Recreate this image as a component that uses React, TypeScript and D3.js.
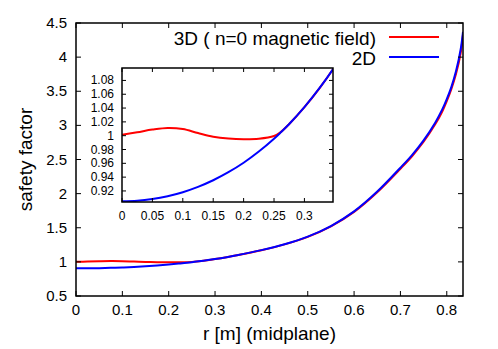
import React from 'react';
import * as d3 from 'd3';

// minor radius along the midplane [m]
const radius = [0, 0.025, 0.05, 0.075, 0.1, 0.125, 0.15, 0.175, 0.2, 0.225, 0.25, 0.26, 0.275, 0.3, 0.325, 0.35, 0.4, 0.45, 0.5, 0.55, 0.6, 0.65, 0.7, 0.725, 0.75, 0.775, 0.79, 0.8, 0.81, 0.82, 0.83, 0.835];

// safety factor, axisymmetric equilibrium
const q2D = [0.905, 0.9058, 0.9083, 0.9124, 0.9182, 0.9259, 0.9355, 0.9471, 0.9608, 0.977, 0.9956, 1.0039, 1.017, 1.0414, 1.0691, 1.1003, 1.172, 1.258, 1.37, 1.525, 1.74, 2.03, 2.38, 2.565, 2.78, 3.04, 3.23, 3.385, 3.565, 3.795, 4.115, 4.37];

// safety factor with the n=0 magnetic field
const q3D = [1.0015, 1.005, 1.0088, 1.0112, 1.0097, 1.0038, 0.9985, 0.9958, 0.9948, 0.9955, 0.9995, 1.0045, 1.017, 1.0414, 1.069, 1.1, 1.171, 1.256, 1.366, 1.52, 1.732, 2.02, 2.365, 2.548, 2.76, 3.015, 3.2, 3.355, 3.535, 3.755, 4.06, 4.33];

const mainXTicks = [0, 0.1, 0.2, 0.3, 0.4, 0.5, 0.6, 0.7, 0.8];
const mainYTicks = [0.5, 1, 1.5, 2, 2.5, 3, 3.5, 4, 4.5];
const insetXTicks = [0, 0.05, 0.1, 0.15, 0.2, 0.25, 0.3];
const insetYTicks = [0.92, 0.94, 0.96, 0.98, 1, 1.02, 1.04, 1.06, 1.08];

const legend = ['3D ( n=0 magnetic field)', '2D'];
const colors = ['#ff0000', '#0000ff'];

const font = '"Liberation Sans", Arial, sans-serif';

const App = () => {
  const width = 498;
  const height = 349;

  // main frame
  const m = { left: 76, top: 23, right: 463, bottom: 296 };
  const x = d3.scaleLinear().domain([0, 0.835]).range([m.left, m.right]);
  const y = d3.scaleLinear().domain([0.5, 4.5]).range([m.bottom, m.top]);

  // inset frame
  const s = { left: 122, top: 68, right: 333, bottom: 202 };
  const xi = d3.scaleLinear().domain([0, 0.347]).range([s.left, s.right]);
  const yi = d3.scaleLinear().domain([0.904, 1.098]).range([s.bottom, s.top]);

  const pts = (q: number[]) => radius.map((r, i) => [r, q[i]] as [number, number]);

  const mainLine = d3.line<[number, number]>()
    .x(d => x(d[0]))
    .y(d => y(d[1]))
    .curve(d3.curveCatmullRom.alpha(0.5));

  const insetLine = d3.line<[number, number]>()
    .x(d => xi(d[0]))
    .y(d => yi(d[1]))
    .curve(d3.curveCatmullRom.alpha(0.5));

  const series = [q3D, q2D];
  const tick = 5;
  const tickI = 4;

  return (
    <svg width={width} height={height} style={{ position: 'absolute', left: 0, top: 0, background: '#fff' }} fontFamily={font}>
      <defs>
        <clipPath id="mainClip">
          <rect x={m.left} y={m.top} width={m.right - m.left} height={m.bottom - m.top} />
        </clipPath>
        <clipPath id="insetClip">
          <rect x={s.left} y={s.top} width={s.right - s.left} height={s.bottom - s.top} />
        </clipPath>
      </defs>

      {/* main curves */}
      <g clipPath="url(#mainClip)">
        {series.map((q, i) => (
          <path key={i} d={mainLine(pts(q)) || ''} fill="none" stroke={colors[i]} strokeWidth={2} />
        ))}
      </g>

      {/* main ticks, mirrored on all sides */}
      <g stroke="#000" strokeWidth={1}>
        {mainXTicks.map(t => (
          <g key={'x' + t}>
            <line x1={x(t)} x2={x(t)} y1={m.bottom} y2={m.bottom - tick} />
            <line x1={x(t)} x2={x(t)} y1={m.top} y2={m.top + tick} />
          </g>
        ))}
        {mainYTicks.map(t => (
          <g key={'y' + t}>
            <line x1={m.left} x2={m.left + tick} y1={y(t)} y2={y(t)} />
            <line x1={m.right} x2={m.right - tick} y1={y(t)} y2={y(t)} />
          </g>
        ))}
      </g>
      <rect x={m.left} y={m.top} width={m.right - m.left} height={m.bottom - m.top} fill="none" stroke="#000" strokeWidth={1.5} />

      <g fontSize={15} fill="#000">
        {mainXTicks.map(t => (
          <text key={'xl' + t} x={x(t)} y={315} textAnchor="middle">{String(t)}</text>
        ))}
        {mainYTicks.map(t => (
          <text key={'yl' + t} x={m.left - 9} y={y(t) + 5} textAnchor="end">{String(t)}</text>
        ))}
      </g>

      <text x={(m.left + m.right) / 2} y={340} fontSize={19} textAnchor="middle">r [m] (midplane)</text>
      <text transform={`translate(32,${(m.top + m.bottom) / 2}) rotate(-90)`} fontSize={19} textAnchor="middle">safety factor</text>

      {/* legend */}
      {legend.map((label, i) => (
        <g key={label}>
          <text x={376} y={44.5 + i * 20.5} fontSize={19} textAnchor="end">{label}</text>
          <line x1={389} x2={439} y1={37 + i * 20} y2={37 + i * 20} stroke={colors[i]} strokeWidth={2} />
        </g>
      ))}

      {/* inset */}
      <rect x={s.left} y={s.top} width={s.right - s.left} height={s.bottom - s.top} fill="#fff" />
      <g clipPath="url(#insetClip)">
        {series.map((q, i) => (
          <path key={i} d={insetLine(pts(q)) || ''} fill="none" stroke={colors[i]} strokeWidth={2} />
        ))}
      </g>
      <g stroke="#000" strokeWidth={1}>
        {insetXTicks.map(t => (
          <g key={'ix' + t}>
            <line x1={xi(t)} x2={xi(t)} y1={s.bottom} y2={s.bottom - tickI} />
            <line x1={xi(t)} x2={xi(t)} y1={s.top} y2={s.top + tickI} />
          </g>
        ))}
        {insetYTicks.map(t => (
          <g key={'iy' + t}>
            <line x1={s.left} x2={s.left + tickI} y1={yi(t)} y2={yi(t)} />
            <line x1={s.right} x2={s.right - tickI} y1={yi(t)} y2={yi(t)} />
          </g>
        ))}
      </g>
      <rect x={s.left} y={s.top} width={s.right - s.left} height={s.bottom - s.top} fill="none" stroke="#000" strokeWidth={1.5} />
      <g fontSize={12} fill="#000">
        {insetXTicks.map(t => (
          <text key={'ixl' + t} x={xi(t)} y={220} textAnchor="middle">{String(t)}</text>
        ))}
        {insetYTicks.map(t => (
          <text key={'iyl' + t} x={s.left - 8} y={yi(t) + 4} textAnchor="end">{String(t)}</text>
        ))}
      </g>
    </svg>
  );
};

export default App;
